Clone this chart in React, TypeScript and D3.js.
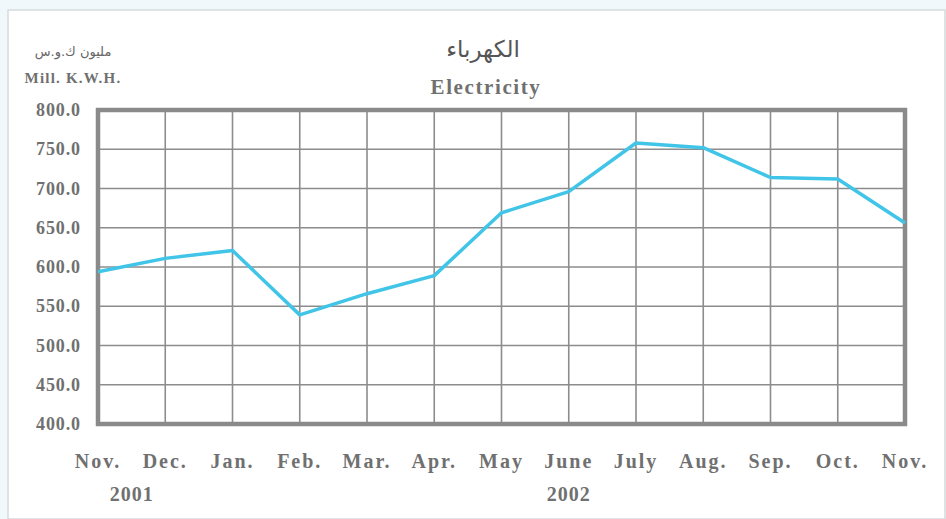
import React from "react";
import * as d3 from "d3";

const months = ["Nov.", "Dec.", "Jan.", "Feb.", "Mar.", "Apr.", "May", "June", "July", "Aug.", "Sep.", "Oct.", "Nov."];
const values = [594, 611, 621, 539, 566, 589, 669, 696, 758, 752, 714, 712, 656];
const yTicks = [400, 450, 500, 550, 600, 650, 700, 750, 800];
const years = [
  { label: "2001", idx: 0.5 },
  { label: "2002", idx: 7 },
];

const W = 946;
const H = 519;
const X0 = 98;
const X1 = 905;
const Y0 = 110;
const Y1 = 424;

export default function App() {
  const x = d3.scaleLinear().domain([0, months.length - 1]).range([X0, X1]);
  const y = d3.scaleLinear().domain([400, 800]).range([Y1, Y0]);
  const line = d3
    .line<number>()
    .x((_, i) => x(i))
    .y((d) => y(d));
  const textColor = "#707070";
  const grid = "#8c8c8c";
  return (
    <svg
      width={W}
      height={H}
      style={{ position: "absolute", left: 0, top: 0, background: "#f1f8fb" }}
    >
      <rect x={8} y={10} width={W - 9} height={H - 10} fill="#ffffff" stroke="#d6dadc" strokeWidth={1.5} />
      {yTicks.map((t) => (
        <line key={"h" + t} x1={X0} x2={X1} y1={y(t)} y2={y(t)} stroke={grid} strokeWidth={1.6} />
      ))}
      {months.map((_, i) => (
        <line key={"v" + i} x1={x(i)} x2={x(i)} y1={Y0} y2={Y1} stroke={grid} strokeWidth={1.6} />
      ))}
      <rect x={X0} y={Y0} width={X1 - X0} height={Y1 - Y0} fill="none" stroke="#8a8a8a" strokeWidth={4.5} />
      <path d={line(values) || ""} fill="none" stroke="#40c5e8" strokeWidth={3.5} strokeLinejoin="round" />
      {yTicks.map((t) => (
        <text
          key={"yt" + t}
          x={81}
          y={y(t) + 6}
          textAnchor="end"
          fontFamily="Liberation Serif"
          fontWeight="bold"
          fontSize={18}
          letterSpacing={0.9}
          fill={textColor}
        >
          {t.toFixed(1)}
        </text>
      ))}
      {months.map((m, i) => (
        <text
          key={"xt" + i}
          x={x(i)}
          y={468}
          textAnchor="middle"
          fontFamily="Liberation Serif"
          fontWeight="bold"
          fontSize={20}
          letterSpacing={2}
          fill={textColor}
        >
          {m}
        </text>
      ))}
      {years.map((yr) => (
        <text
          key={yr.label}
          x={x(yr.idx)}
          y={501}
          textAnchor="middle"
          fontFamily="Liberation Serif"
          fontWeight="bold"
          fontSize={20}
          letterSpacing={1}
          fill={textColor}
        >
          {yr.label}
        </text>
      ))}
      <text x={483} y={57} textAnchor="middle" fontFamily="DejaVu Sans" fontSize={23} fill="#555">
        الكهرباء
      </text>
      <text x={486} y={94} textAnchor="middle" fontFamily="Liberation Serif" fontWeight="bold" fontSize={21} letterSpacing={1.6} fill={textColor}>
        Electricity
      </text>
      <text x={73} y={56} textAnchor="middle" fontFamily="DejaVu Sans" fontSize={13} fill="#666">
        مليون ك.و.س
      </text>
      <text x={73} y={83} textAnchor="middle" fontFamily="Liberation Serif" fontWeight="bold" fontSize={15} letterSpacing={1.2} fill={textColor}>
        Mill. K.W.H.
      </text>
    </svg>
  );
}
